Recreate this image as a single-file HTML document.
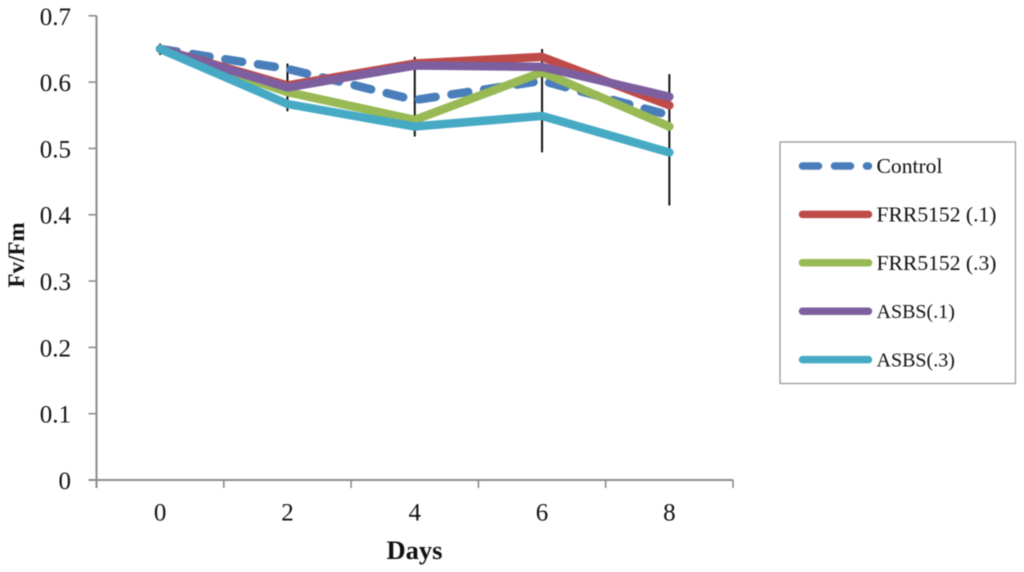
<!DOCTYPE html>
<html lang="en">
<head>
<meta charset="utf-8">
<title>Fv/Fm over days</title>
<style>
html,body{margin:0;padding:0;background:#fff;width:1024px;height:572px;overflow:hidden}
svg{display:block;filter:blur(0.45px)}
text{font-family:"Liberation Serif",serif;fill:#111}
</style>
</head>
<body>
<svg id="chart" width="1024" height="572" viewBox="0 0 1024 572" xmlns="http://www.w3.org/2000/svg"></svg>
<script>
const days = ['0', '2', '4', '6', '8'];
const yTicks = [0, 0.1, 0.2, 0.3, 0.4, 0.5, 0.6, 0.7];
const controlValues = [0.650, 0.620, 0.573, 0.602, 0.550];
const frr1Values = [0.650, 0.595, 0.628, 0.638, 0.565];
const frr3Values = [0.650, 0.585, 0.543, 0.615, 0.533];
const asbs1Values = [0.650, 0.592, 0.625, 0.623, 0.578];
const asbs3Values = [0.650, 0.567, 0.533, 0.549, 0.494];
const errorLow = [0.641, 0.556, 0.518, 0.494, 0.414];
const errorHigh = [0.658, 0.628, 0.638, 0.650, 0.612];
const seriesNames = ['Control', 'FRR5152 (.1)', 'FRR5152 (.3)', 'ASBS(.1)', 'ASBS(.3)'];
const seriesKeys = ['control', 'frr5152-01', 'frr5152-03', 'asbs-01', 'asbs-03'];
const seriesValues = [controlValues, frr1Values, frr3Values, asbs1Values, asbs3Values];
const seriesColors = ['#4a7ebb', '#be4b48', '#98b954', '#7d5fa0', '#46aac5'];

const NS = 'http://www.w3.org/2000/svg';
const svg = document.getElementById('chart');
const plot = {left: 96.5, right: 733, top: 15.8, bottom: 480};
const yMax = 0.7;
const band = (plot.right - plot.left) / days.length;
function xPos(i) { return plot.left + band * (i + 0.5); }
function yPos(v) { return plot.bottom - (v / yMax) * (plot.bottom - plot.top); }
function make(tag, attrs, parent) {
  const el = document.createElementNS(NS, tag);
  for (const k in attrs) el.setAttribute(k, attrs[k]);
  (parent || svg).appendChild(el);
  return el;
}
const axisColor = '#8c8c8c';

// y axis
const yAxis = make('line', {x1: plot.left, x2: plot.left, y1: plot.top, y2: plot.bottom + 8, stroke: axisColor, 'stroke-width': 2});


yTicks.forEach(function (t) {
  const tick = make('line', {x1: plot.left - 8, x2: plot.left, y1: yPos(t), y2: yPos(t), stroke: axisColor, 'stroke-width': 1.6});
  
  
  const label = make('text', {x: 71, y: yPos(t) + 9, 'text-anchor': 'end', 'font-size': 25});
  
  
  label.textContent = t === 0 ? '0' : t.toFixed(1);
});

// x axis
const xAxis = make('line', {x1: plot.left - 8, x2: plot.right, y1: plot.bottom, y2: plot.bottom, stroke: axisColor, 'stroke-width': 2});


for (let i = 0; i <= days.length; i++) {
  const tx = plot.left + band * i;
  const tick = make('line', {x1: tx, x2: tx, y1: plot.bottom, y2: plot.bottom + 8, stroke: axisColor, 'stroke-width': 1.6});
  
  
}
days.forEach(function (d, i) {
  const label = make('text', {x: xPos(i), y: 520.5, 'text-anchor': 'middle', 'font-size': 25});
  
  
  label.textContent = d;
});

// axis titles
const xTitle = make('text', {x: 414.5, y: 559, 'text-anchor': 'middle', 'font-size': 26.5, 'font-weight': 'bold'});


xTitle.textContent = 'Days';
const yTitle = make('text', {x: 0, y: 0, 'text-anchor': 'middle', 'font-size': 23, 'font-weight': 'bold', transform: 'translate(24 255) rotate(-90)'});


yTitle.textContent = 'Fv/Fm';

// error bars
days.forEach(function (d, i) {
  const bar = make('line', {x1: xPos(i), x2: xPos(i), y1: yPos(errorHigh[i]), y2: yPos(errorLow[i]), stroke: '#111', 'stroke-width': 2});
  
  
});

// series
seriesValues.forEach(function (vals, s) {
  const pts = vals.map(function (v, i) { return xPos(i) + ',' + yPos(v); }).join(' ');
  const line = make('polyline', {points: pts, fill: 'none', stroke: seriesColors[s], 'stroke-width': 8.5, 'stroke-linecap': 'round', 'stroke-linejoin': 'round'});
  if (s === 0) line.setAttribute('stroke-dasharray', '17 16');
  
  
});

// legend
const legend = make('rect', {x: 780, y: 142, width: 235.5, height: 241.5, fill: '#fff', stroke: '#9a9a9a', 'stroke-width': 1.3});


const legendStep = 48.4;
seriesNames.forEach(function (name, s) {
  const ly = 166 + legendStep * s;
  const sw = make('line', {x1: 802.5, x2: 868.5, y1: ly, y2: ly, stroke: seriesColors[s], 'stroke-width': 7.5, 'stroke-linecap': 'round'});
  if (s === 0) sw.setAttribute('stroke-dasharray', '16 16');
  
  
  const isAsbs = s >= 3;
  const label = make('text', {x: 876.5, y: ly + 7, 'font-size': isAsbs ? 20 : 21.6});
  
  
  label.textContent = name;
});
</script>
</body>
</html>
